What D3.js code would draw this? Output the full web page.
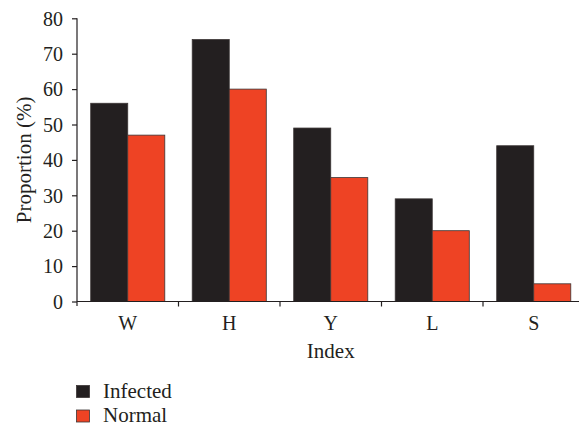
<!DOCTYPE html>
<html><head><meta charset="utf-8">
<script src="https://cdn.jsdelivr.net/npm/d3@7"></script>
<style>body{margin:0;background:#fff}</style>
</head><body><svg id="c" width="579" height="427" font-family="Liberation Serif, DejaVu Serif, serif"></svg>
<script>
const categories = ["W","H","Y","L","S"];
const infected = [56,74,49,29,44];
const normal = [47,60,35,20,5];
const yTicks = [0,10,20,30,40,50,60,70,80];
const seriesNames = ["Infected","Normal"];
const colors = ["#231f20","#ee4324"];

const FONT = "Liberation Serif, DejaVu Serif, serif";
const svg = d3.select("#c");
const x0 = 77, x1 = 584.5, yTop = 18.3, yBot = 301.5;
const x = d3.scaleBand().domain(categories).range([x0,x1]).paddingInner(0).paddingOuter(0);
const y = d3.scaleLinear().domain([0,80]).range([yBot,yTop]);
const inner = d3.scaleBand().domain(seriesNames).range([0, x.bandwidth()]).paddingOuter(0.37).paddingInner(0);

const data = categories.map((c,i)=>({c, vals:[infected[i], normal[i]]}));
const g = svg.append("g");
data.forEach(d=>{
  d.vals.forEach((v,j)=>{
    g.append("rect")
      .attr("x", x(d.c)+inner(seriesNames[j]))
      .attr("y", y(v))
      .attr("width", inner.bandwidth())
      .attr("height", y(0)-y(v))
      .attr("fill", colors[j])
      .attr("stroke", "#3b3535").attr("stroke-width", 0.8);
  });
});

// y axis
const ya = svg.append("g").attr("transform",`translate(${x0},0)`)
  .call(d3.axisLeft(y).tickValues(yTicks).tickSize(5).tickPadding(9));
ya.attr("font-family", FONT);
ya.select(".domain").attr("d",`M0,${yTop}V${yBot+4.5}`).attr("stroke","#231f20").attr("stroke-width",1.2);
ya.selectAll(".tick line").attr("stroke","#231f20").attr("stroke-width",1.2);
ya.selectAll(".tick text").attr("font-size",20).attr("fill","#231f20").attr("font-family",FONT).attr("dy","0.34em");

// x axis
const xa = svg.append("g").attr("transform",`translate(0,${yBot})`);
xa.append("path").attr("d",`M${x0},0H${x1}`).attr("stroke","#231f20").attr("stroke-width",1.2);
categories.slice(1).forEach(c=>{
  xa.append("line").attr("x1",x(c)).attr("x2",x(c)).attr("y1",0).attr("y2",5).attr("stroke","#231f20").attr("stroke-width",1.2);
});
categories.forEach(c=>{
  xa.append("text").attr("x",x(c)+x.bandwidth()/2).attr("y",28).attr("text-anchor","middle").attr("font-size",20).attr("font-family",FONT).attr("fill","#231f20").text(c);
});
svg.append("text").attr("x",(x0+x1)/2).attr("y",358).attr("text-anchor","middle").attr("font-size",21).attr("font-family",FONT).attr("fill","#231f20").text("Index");
svg.append("text").attr("transform",`translate(31,${(yTop+yBot)/2}) rotate(-90)`).attr("text-anchor","middle").attr("font-size",21).attr("font-family",FONT).attr("fill","#231f20").text("Proportion (%)");

// legend
seriesNames.forEach((s,i)=>{
  const ly = 385.5 + i*24.5;
  svg.append("rect").attr("x",76.5).attr("y",ly).attr("width",13).attr("height",12).attr("fill",colors[i]).attr("stroke","#3b3535").attr("stroke-width",0.8);
  svg.append("text").attr("x",103).attr("y",ly+12.3).attr("font-size",21).attr("font-family",FONT).attr("fill","#231f20").text(s);
});
</script></body></html>
